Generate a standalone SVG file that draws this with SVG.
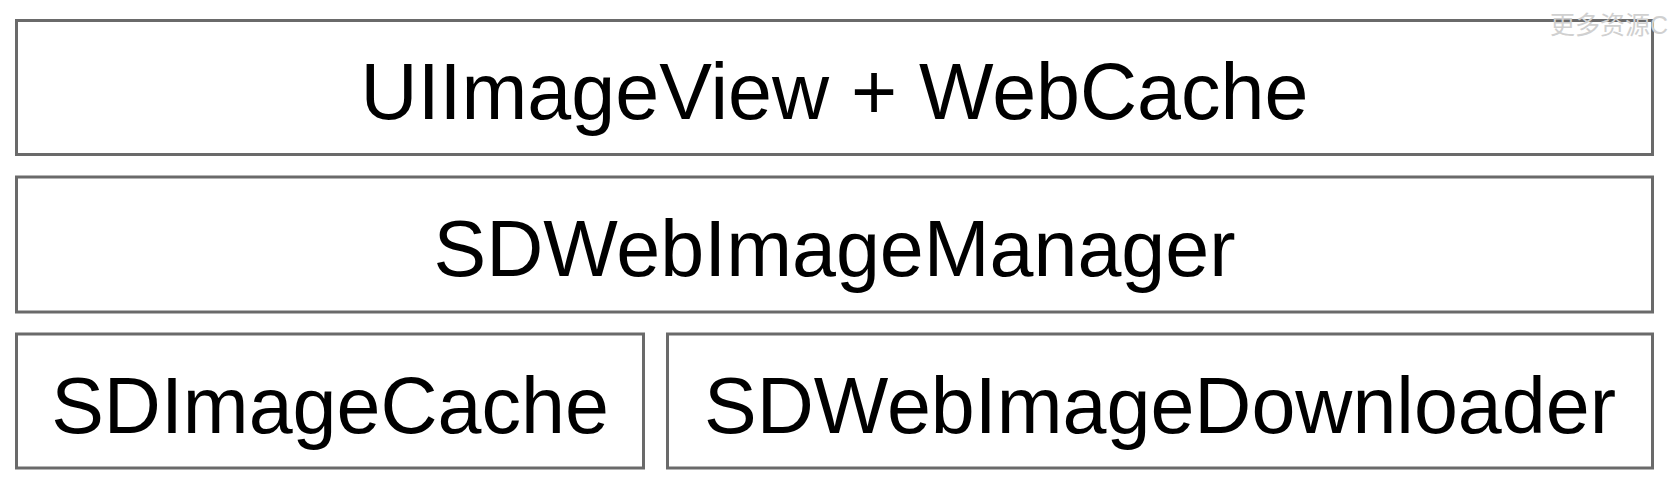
<svg xmlns="http://www.w3.org/2000/svg" width="1672" height="488" viewBox="0 0 1672 488">
<style>
.box{fill:#fff;stroke:#6a6a6a;stroke-width:3}
.lbl{font-family:"Liberation Sans",Arial,sans-serif;font-size:79px;fill:#000;text-anchor:middle}
.wm{font-family:"Liberation Sans","Noto Sans CJK SC",sans-serif;font-size:25px;fill:#d0d0d0}
</style>
<rect width="1672" height="488" fill="#fff"/>
<g id="uiimageview">
<rect class="box" x="16.5" y="20.5" width="1636" height="134"/>
<text class="lbl" x="834.5" y="119">UIImageView + WebCache</text>
</g>
<g id="manager">
<rect class="box" x="16.5" y="177" width="1636" height="135"/>
<text class="lbl" x="834.5" y="276">SDWebImageManager</text>
</g>
<g id="cache">
<rect class="box" x="16.5" y="334" width="627" height="134"/>
<text class="lbl" x="330" y="433">SDImageCache</text>
</g>
<g id="downloader">
<rect class="box" x="667.5" y="334" width="985" height="134"/>
<text class="lbl" x="1160" y="433">SDWebImageDownloader</text>
</g>
<g id="connectors"></g>
<text class="wm" x="1550" y="34">更多资源C</text>
</svg>
